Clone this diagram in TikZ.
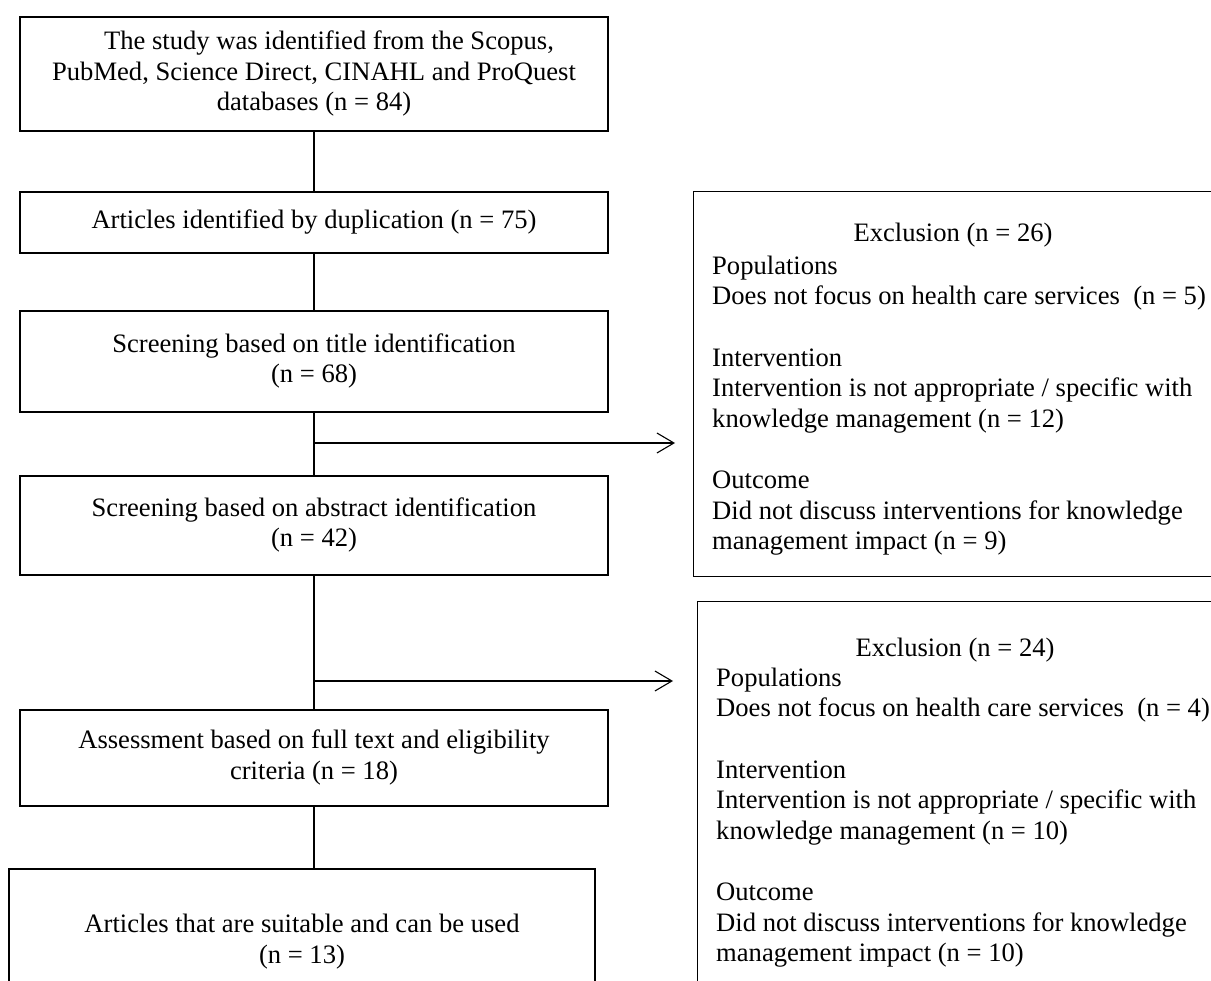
\documentclass[tikz,border=0pt]{standalone}
\usepackage{fontspec}
\setmainfont{Liberation Serif}
\usetikzlibrary{arrows.meta}
\begin{document}
\begin{tikzpicture}[x=1pt,y=-1pt,
  fnt/.style={font=\fontsize{26.6}{30.6}\selectfont},
  lbox/.style={draw, line width=1.2pt, fnt, align=center, minimum width=588pt, inner sep=0pt},
  rbox/.style={draw, line width=1.2pt, anchor=north west, inner sep=0pt},
  body/.style={fnt, align=left, anchor=north west, inner sep=0pt},
  head/.style={fnt, anchor=base, inner sep=0pt},
  conn/.style={line width=1.1pt},
  arr/.style={line width=1.1pt, -{Straight Barb[length=17pt,width=20pt,line width=1.1pt]}}]
\useasboundingbox (0,0) rectangle (1211,981);
\clip (0,0) rectangle (1211,981);

% left column
\node[lbox, minimum height=114pt] (b1) at (314,74)
  {\strut\hspace*{30pt}The study was identified from the Scopus,\\PubMed, Science Direct, CINAHL and ProQuest\\databases (n = 84)\strut};
\node[lbox, minimum height=61pt] (b2) at (314,222.5)
  {\strut Articles identified by duplication (n = 75)\strut};
\node[lbox, minimum height=101pt] (b3) at (314,361.5)
  {\strut Screening based on title identification\\(n = 68)\strut};
\node[lbox, minimum height=99pt] (b4) at (314,525.5)
  {\strut Screening based on abstract identification\\(n = 42)\strut};
\node[lbox, minimum height=96pt] (b5) at (314,758)
  {\strut Assessment based on full text and eligibility\\criteria (n = 18)\strut};
\node[lbox, minimum width=586pt, minimum height=146pt] (b6) at (302,942)
  {\strut Articles that are suitable and can be used\\(n = 13)\strut};

% right boxes
\node[rbox, minimum width=522pt, minimum height=385pt] (ex1) at (693,191) {};
\node[rbox, minimum width=518pt, minimum height=400pt] (ex2) at (697,601) {};

\node[head] (h1) at (953,242) {Exclusion (n = 26)};
\node[body] (t1) at (712,252.6)
  {\strut Populations\\\strut Does not focus on health care services~ (n = 5)\\\strut\\
   \strut Intervention\\\strut Intervention is not appropriate / specific with\\\strut knowledge management (n = 12)\\\strut\\
   \strut Outcome\\\strut Did not discuss interventions for knowledge\\\strut management impact (n = 9)};

\node[head] (h2) at (955,656) {Exclusion (n = 24)};
\node[body] (t2) at (716,664.6)
  {\strut Populations\\\strut Does not focus on health care services~ (n = 4)\\\strut\\
   \strut Intervention\\\strut Intervention is not appropriate / specific with\\\strut knowledge management (n = 10)\\\strut\\
   \strut Outcome\\\strut Did not discuss interventions for knowledge\\\strut management impact (n = 10)};

% connectors
\draw[conn] (b1.south) -- (b2.north);
\draw[conn] (b2.south) -- (b3.north);
\draw[conn] (b3.south) -- (b4.north);
\draw[conn] (b4.south) -- (b5.north);
\draw[conn] (b5.south) -- (b5.south |- b6.north);

\coordinate (j1) at (314,443);
\coordinate (e1) at (675,443);
\coordinate (j2) at (314,681);
\coordinate (e2) at (673,681);
\draw[arr] (j1) -- (e1);
\draw[arr] (j2) -- (e2);
\end{tikzpicture}
\end{document}
